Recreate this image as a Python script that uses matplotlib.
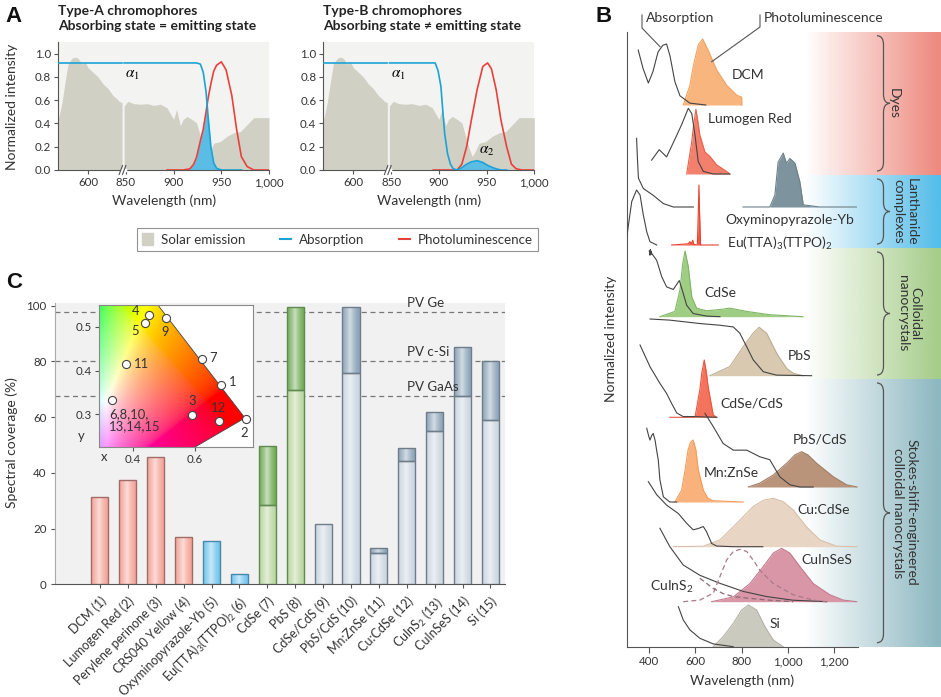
import numpy as np
import matplotlib.pyplot as plt
from matplotlib.patches import Patch, Polygon, PathPatch
from matplotlib.lines import Line2D
from matplotlib.path import Path
from matplotlib.colors import to_rgb

plt.rcParams['font.family'] = ['Lato', 'DejaVu Sans']
plt.rcParams['mathtext.fontset'] = 'custom'
plt.rcParams['mathtext.rm'] = 'Lato'
plt.rcParams['mathtext.it'] = 'Lato:italic'
plt.rcParams['font.size'] = 9

# ---------------- data: panel A ----------------
solar_left_wl = [570, 571, 574, 577, 580, 584, 587, 590, 594, 597, 600, 605, 610, 615, 620, 625, 629, 631, 634]
solar_left = [0.44, 0.46, 0.58, 0.75, 0.91, 0.96, 0.97, 0.96, 0.91, 0.93, 0.88, 0.84, 0.80, 0.74, 0.70, 0.64, 0.61, 0.59, 0.58]
solar_right_wl = [848, 852, 858, 865, 872, 879, 886, 893, 896, 900, 903, 907, 910, 914, 919, 924, 928, 931, 935, 938,
                  942, 949, 956, 963, 970, 977, 984, 991, 998, 1000]
solar_right = [0.55, 0.59, 0.57, 0.565, 0.57, 0.555, 0.565, 0.535, 0.49, 0.435, 0.52, 0.38, 0.435, 0.46, 0.435, 0.405, 0.29, 0.20, 0.115, 0.16,
               0.23, 0.245, 0.29, 0.32, 0.33, 0.39, 0.45, 0.45, 0.45, 0.45]
abs_left_wl = [570, 634]
abs_left = [0.92, 0.92]

wl_a = [848, 870, 893, 910, 917, 921, 924, 928, 931, 934, 936, 939, 942, 945, 950, 955, 961, 966, 971, 977, 984, 1000]
abs_a = [0.92, 0.92, 0.92, 0.92, 0.92, 0.92, 0.92, 0.91, 0.84, 0.67, 0.47, 0.20, 0.06, 0.015, 0, 0, 0, 0, 0,
         np.nan, np.nan, np.nan]
pl_a = [np.nan, np.nan, 0, 0, 0.01, 0.05, 0.11, 0.25, 0.35, 0.50, 0.61, 0.74, 0.85, 0.90, 0.93, 0.86, 0.64, 0.35, 0.115, 0.03, 0, 0]

wl_b = [848, 870, 894, 896, 899, 902, 904, 906, 909, 912, 915, 919, 924, 929, 934, 940, 946, 951, 955, 960, 965, 971, 976, 981, 987, 1000]
abs_b = [0.92, 0.92, 0.92, 0.92, 0.855, 0.72, 0.51, 0.31, 0.14, 0.05, 0.01, 0, 0.02, 0.05, 0.07, 0.08, 0.065, 0.04, 0.025, 0.01, 0, 0,
         np.nan, np.nan, np.nan, np.nan]
pl_b = [np.nan, np.nan, 0, 0, 0, 0, 0, 0, 0, 0, 0, 0, 0.05, 0.2, 0.43, 0.69, 0.89, 0.92, 0.87, 0.69, 0.43, 0.2, 0.05, 0.01, 0, 0]

# ---------------- data: panel C ----------------
materials = ['DCM (1)', 'Lumogen Red (2)', 'Perylene perinone (3)', 'CRS040 Yellow (4)', 'Oxyminopyrazole-Yb (5)',
             'Eu(TTA)$_3$(TTPO)$_2$ (6)', 'CdSe (7)', 'PbS (8)', 'CdSe/CdS (9)', 'PbS/CdS (10)', 'Mn:ZnSe (11)',
             'Cu:CdSe (12)', 'CuInS$_2$ (13)', 'CuInSeS (14)', 'Si (15)']
cov_low = [31.2, 37.3, 45.8, 17.1, 15.4, 3.6, 28.3, 69.6, 21.8, 75.9, 11.1, 44.4, 55.2, 67.7, 59.1]
cov_high = [31.2, 37.3, 45.8, 17.1, 15.4, 3.6, 49.6, 99.6, 21.8, 99.6, 12.9, 49.0, 61.7, 85.2, 80.3]
classes = ['dye'] * 4 + ['lan'] * 2 + ['col'] * 2 + ['sse'] * 7
pv_names = ['PV Ge', 'PV c-Si', 'PV GaAs']
pv_vals = [97.6, 80.3, 67.7]

chrom_labels = ['1', '2', '3', '4', '5', '6,8,10,\n13,14,15', '7', '9', '11', '12']
chrom_x = [0.684, 0.763, 0.591, 0.452, 0.437, 0.331, 0.624, 0.505, 0.376, 0.677]
chrom_y = [0.368, 0.289, 0.298, 0.527, 0.508, 0.334, 0.426, 0.520, 0.415, 0.286]
gamut_x = [0.29, 0.29, 0.48, 0.761, 0.60]
gamut_y = [0.226, 0.549, 0.549, 0.292, 0.226]

# ---------------- data: panel B (normalised spectra) ----------------
dcm_abs_wl = [352, 373, 396, 416, 438, 459, 475, 490, 511, 533, 576, 645]
dcm_abs = [0.90, 0.60, 0.36, 0.55, 0.87, 0.98, 1.00, 0.80, 0.38, 0.15, 0.03, 0.0]
dcm_pl_wl = [547, 576, 590, 612, 631, 655, 692, 735, 778, 800, 801]
dcm_pl = [0.0, 0.30, 0.58, 0.91, 1.00, 0.83, 0.53, 0.30, 0.15, 0.12, 0.0]

lum_abs_wl = [410, 443, 475, 519, 540, 569, 584, 598, 612, 634, 677, 749]
lum_abs = [0.21, 0.37, 0.26, 0.59, 0.75, 1.00, 0.92, 0.59, 0.19, 0.04, 0.0, 0.0]
lum_pl_wl = [562, 584, 592, 602, 611, 619, 641, 663, 692, 735, 749]
lum_pl = [0.0, 0.50, 0.76, 1.00, 0.80, 0.60, 0.34, 0.27, 0.14, 0.04, 0.0]

yb_abs_wl = [345, 349, 353, 374, 417, 461, 504, 591]
yb_abs = [1.00, 0.68, 0.42, 0.27, 0.17, 0.05, 0.0, 0.0]
yb_pl_wl = [806, 922, 944, 958, 980, 994, 1009, 1031, 1052, 1067, 1138, 1297]
yb_pl = [0.0, 0.0, 0.22, 0.83, 1.00, 0.81, 0.90, 0.81, 0.47, 0.04, 0.0, 0.0]

eu_abs_wl = [302, 324, 345, 360, 374, 389, 403, 432]
eu_abs = [0.13, 0.79, 1.00, 0.91, 0.55, 0.24, 0.06, 0.0]
eu_pl_wl = [497, 568, 576, 582, 588, 593, 608, 612, 615, 618, 622, 699]
eu_pl = [0.0, 0.02, 0.055, 0.02, 0.08, 0.01, 0.0, 0.5, 1.0, 0.5, 0.0, 0.0]

cdse_abs_wl = [400, 403, 405, 407, 409, 410, 432, 454, 475, 504, 530, 547, 562, 590, 648, 706]
cdse_abs = [1.04, 0.97, 1.06, 0.98, 1.03, 1.00, 0.89, 0.63, 0.47, 0.43, 0.57, 0.37, 0.18, 0.05, 0.01, 0.0]
cdse_pl_wl = [446, 511, 533, 545, 555, 569, 584, 605, 648, 706, 749, 822, 922, 1066]
cdse_pl = [0.0, 0.08, 0.41, 0.81, 1.00, 0.76, 0.30, 0.13, 0.09, 0.11, 0.13, 0.08, 0.03, 0.0]

pbs_abs_wl = [403, 489, 619, 706, 764, 792, 822, 850, 894, 951, 1103]
pbs_abs = [1.00, 0.98, 0.92, 0.89, 0.86, 0.75, 0.51, 0.28, 0.07, 0.01, 0.0]
pbs_pl_wl = [663, 749, 807, 850, 876, 908, 952, 995, 1023, 1067]
pbs_pl = [0.0, 0.19, 0.60, 0.88, 1.00, 0.88, 0.46, 0.15, 0.05, 0.0]

cdscds_abs_wl = [360, 403, 446, 475, 497, 519, 547, 590, 692]
cdscds_abs = [1.00, 0.70, 0.47, 0.33, 0.19, 0.06, 0.01, 0.01, 0.0]
cdscds_pl_wl = [489, 598, 619, 628, 638, 647, 655, 677, 692]
cdscds_pl = [0.0, 0.0, 0.48, 0.79, 1.00, 0.79, 0.53, 0.04, 0.0]

pbscds_abs_wl = [641, 677, 720, 764, 822, 879, 922, 965, 1009, 1052, 1110]
pbscds_abs = [1.00, 0.82, 0.59, 0.50, 0.50, 0.41, 0.37, 0.14, 0.03, 0.0, 0.0]
pbscds_pl_wl = [829, 879, 937, 995, 1031, 1060, 1087, 1125, 1197, 1255, 1300]
pbscds_pl = [0.0, 0.11, 0.34, 0.67, 0.91, 1.00, 0.91, 0.67, 0.29, 0.06, 0.0]

mn_abs_wl = [389, 397, 403, 410, 417, 425, 433, 439, 446, 461, 489, 519]
mn_abs = [1.00, 0.90, 0.84, 0.90, 0.93, 0.84, 0.68, 0.57, 0.30, 0.07, 0.0, 0.0]
mn_pl_wl = [511, 540, 555, 568, 578, 590, 602, 612, 634, 654, 677, 807]
mn_pl = [0.0, 0.19, 0.52, 0.84, 0.96, 1.00, 0.84, 0.52, 0.19, 0.06, 0.02, 0.0]

cu_abs_wl = [396, 432, 475, 526, 562, 590, 612, 634, 648, 670, 692, 764, 892]
cu_abs = [1.00, 0.80, 0.64, 0.51, 0.36, 0.26, 0.28, 0.31, 0.23, 0.05, 0.01, 0.0, 0.0]
cu_pl_wl = [504, 634, 706, 778, 850, 894, 937, 980, 1023, 1081, 1139, 1211, 1300]
cu_pl = [0.0, 0.01, 0.14, 0.48, 0.83, 0.96, 1.00, 0.93, 0.76, 0.41, 0.14, 0.01, 0.0]

cis_abs_wl = [446, 489, 547, 619, 706, 807, 908, 1023, 1168]
cis_abs = [1.00, 0.75, 0.50, 0.36, 0.25, 0.14, 0.07, 0.02, 0.0]
cis_pl_wl = [670, 764, 836, 894, 937, 973, 1009, 1052, 1110, 1182, 1240, 1298]
cis_pl = [0.0, 0.09, 0.34, 0.66, 0.91, 1.00, 0.91, 0.66, 0.34, 0.13, 0.03, 0.0]
cins2_abs_wl = [619, 648, 677, 720, 764, 822, 922, 1023]
cins2_abs = [0.32, 0.25, 0.18, 0.11, 0.07, 0.05, 0.02, 0.0]
cins2_pl_wl = [547, 619, 677, 706, 735, 764, 792, 822, 850, 879, 937, 1023, 1110, 1168]
cins2_pl = [0.0, 0.03, 0.16, 0.47, 0.78, 0.94, 0.98, 0.94, 0.78, 0.59, 0.34, 0.13, 0.03, 0.0]

si_abs_wl = [526, 547, 576, 619, 677, 764]
si_abs = [1.00, 0.67, 0.42, 0.21, 0.07, 0.0]
si_pl_wl = [677, 720, 764, 800, 829, 865, 901, 937, 980]
si_pl = [0.0, 0.24, 0.56, 0.88, 1.00, 0.88, 0.48, 0.16, 0.0]

# ---------------- figure helpers ----------------
W, H = 941, 697
fig = plt.figure(figsize=(W / 100, H / 100), dpi=100)


def box(x0, y0, x1, y1):
    return [x0 / W, 1 - y1 / H, (x1 - x0) / W, (y1 - y0) / H]


def fp(x, y):
    return (x / W, 1 - y / H)


c_solar = '#d0d0c5'
c_abs = '#1ba3d6'
c_pl = '#e8413c'
grey = '#555555'
txt = '#333333'
fs_tick = 8.3
fs_lab = 10

# broken wavelength axis of panel A
def fwd(w):
    w = np.asarray(w, float)
    return np.where(w <= 636, w - 570, np.where(w >= 848, 68 + (w - 850) * 0.953, 66 + (w - 636) * 0.094 / 212))


def inv(u):
    u = np.asarray(u, float)
    return np.where(u <= 66, u + 570, np.where(u >= 66.094, 850 + (u - 68) / 0.953, 636 + (u - 66) * 212 / 0.094))


# ---------------- panel A ----------------
for x0, wl, ab, pl, kind, t1, t2 in [
        (58, wl_a, abs_a, pl_a, 'A', 'Type-A chromophores', 'Absorbing state = emitting state'),
        (323.3, wl_b, abs_b, pl_b, 'B', 'Type-B chromophores', 'Absorbing state \u2260 emitting state')]:
    ax = fig.add_axes(box(x0, 42, x0 + 211, 170))
    ax.set_xscale('function', functions=(fwd, inv))
    ax.set_facecolor('#f3f3f1')
    wl = np.array(wl)
    ab = np.array(ab)
    pl = np.array(pl)
    ax.fill_between(solar_left_wl, solar_left, color=c_solar, lw=0, zorder=1)
    ax.fill_between(solar_right_wl, solar_right, color=c_solar, lw=0, zorder=1)
    if kind == 'A':
        ovl = np.minimum(ab, pl)
    else:
        ovl = np.where(wl >= 919, ab, np.nan)
    ax.fill_between(wl, ovl, color='#5bbde6', lw=0, zorder=2)
    ax.plot(wl, pl, color=c_pl, lw=1.2, zorder=3)
    ax.plot(abs_left_wl, abs_left, color=c_abs, lw=1.2, zorder=4)
    ax.plot(wl, ab, color=c_abs, lw=1.2, zorder=4)
    ax.set_xlim(570, 1000)
    ax.set_ylim(0, 1.1)
    ax.set_xticks([600, 850, 900, 950, 1000])
    ax.set_xticklabels(['600', '850', '900', '950', '1,000'])
    ax.set_yticks([0, 0.2, 0.4, 0.6, 0.8, 1.0])
    ax.set_yticklabels(['0.0', '0.2', '0.4', '0.6', '0.8', '1.0'])
    ax.tick_params(labelsize=fs_tick, length=3, width=0.8, color=grey, pad=2, labelcolor=txt)
    for s in ['top', 'right']:
        ax.spines[s].set_visible(False)
    for s in ['left', 'bottom']:
        ax.spines[s].set_color(grey)
        ax.spines[s].set_linewidth(0.8)
    # break marks
    bx = 64.5 / 211
    ax.add_line(Line2D([bx - 0.004, bx + 0.012], [0, 0], transform=ax.transAxes, color='white', lw=2.5, clip_on=False, zorder=5))
    for dx in (-0.008, 0.008):
        ax.add_line(Line2D([bx + dx - 0.008, bx + dx + 0.008], [-0.035, 0.035], transform=ax.transAxes,
                           color=grey, lw=0.8, clip_on=False, zorder=6))
    ax.text(857, 0.82, r'$\alpha_1$', math_fontfamily='stix', fontsize=11, ha='center', va='center', zorder=6)
    if kind == 'B':
        ax.text(950, 0.16, r'$\alpha_2$', math_fontfamily='stix', fontsize=11, ha='center', va='center', zorder=6)
    fig.text(*fp(x0, 11), t1, fontsize=10, fontweight='bold', ha='left', va='center', color='#222')
    fig.text(*fp(x0, 26), t2, fontsize=10, fontweight='bold', ha='left', va='center', color='#222')
    fig.text(*fp(x0 + 106, 201), 'Wavelength (nm)', fontsize=fs_lab, ha='center', va='center', color=txt)

fig.text(*fp(12, 107), 'Normalized intensity', fontsize=fs_lab, rotation=90, ha='center', va='center', color=txt)

handles = [Patch(color=c_solar, label='Solar emission'),
           Line2D([], [], color=c_abs, lw=1.5, label='Absorption'),
           Line2D([], [], color=c_pl, lw=1.5, label='Photoluminescence')]
leg = fig.legend(handles=handles, loc='center', bbox_to_anchor=fp(337.5, 239.5), ncol=3, frameon=True,
                 fancybox=False, edgecolor='#777777', fontsize=9.6, handlelength=0.8, handleheight=0.9,
                 columnspacing=2.6, handletextpad=0.6, borderpad=0.4, labelcolor=txt)
leg.get_frame().set_linewidth(0.8)

# ---------------- panel C ----------------
cax = fig.add_axes(box(55, 303, 505, 584.3))
cax.set_facecolor('#f1f1f1')
pos = np.arange(1, 16)
fills = {'dye': ('#f4a498', '#f4a498', '#a06c66'), 'lan': ('#72c5ee', '#72c5ee', '#4a88a8'),
         'col': ('#b9d69f', '#72ac58', '#5f8a50'), 'sse': ('#cbd6e0', '#8da5b9', '#6f7d8a')}


def shaded_bar(p, height, bottom, color, ec):
    rect = cax.bar(p, height, bottom=bottom, width=0.61, color=color, linewidth=0, zorder=3)[0]
    s = np.linspace(0, 1, 60)
    t = np.clip(1 - np.abs(s - 0.45) / 0.5, 0, 1) ** 1.4 * 0.62
    grad = np.array(to_rgb(color))[None, :] * (1 - t[:, None]) + t[:, None]
    im = cax.imshow(grad[None, :, :], extent=(rect.get_x(), rect.get_x() + rect.get_width(), bottom, bottom + height),
                    aspect='auto', interpolation='bilinear', zorder=3.2)
    im.set_clip_path(rect)
    cax.bar(p, height, bottom=bottom, width=0.61, fill=False, edgecolor=ec, linewidth=1, zorder=3.5)


for p, lo, hi, cl in zip(pos, cov_low, cov_high, classes):
    f_lo, f_hi, ec = fills[cl]
    shaded_bar(p, lo, 0, f_lo, ec)
    if hi > lo:
        shaded_bar(p, hi - lo, lo, f_hi, ec)
for name, v in zip(pv_names, pv_vals):
    cax.axhline(v, color='#777777', lw=0.9, ls=(0, (4, 3)), zorder=1)
    cax.text(11.99, v + 1.1, name, fontsize=9.6, ha='left', va='bottom', color=txt, zorder=4)
cax.set_xlim(-0.61, 15.52)
cax.set_ylim(0, 101)
cax.set_yticks([0, 20, 40, 60, 80, 100])
cax.set_xticks(pos)
cax.set_xticklabels(materials, rotation=45, ha='right', va='top', rotation_mode='anchor')
cax.tick_params(labelsize=fs_tick, length=3, width=0.8, color=grey, pad=3, labelcolor=txt)
cax.tick_params(axis='x', labelsize=9, pad=4.5)
for s in ['top', 'right']:
    cax.spines[s].set_visible(False)
cax.spines['left'].set_color('#aaaaaa')
cax.spines['bottom'].set_color(grey)
fig.text(*fp(12, 443), 'Spectral coverage (%)', fontsize=fs_lab, rotation=90, ha='center', va='center', color=txt)

# chromaticity inset
iax = fig.add_axes(box(99, 305, 253, 447))
iax.set_facecolor('white')
gx, gy = np.meshgrid(np.linspace(0.29, 0.787, 220), np.linspace(0.226, 0.549, 160))
X = gx / gy
Z = (1 - gx - gy) / gy
R = 3.2406 * X - 1.5372 - 0.4986 * Z
G = -0.9689 * X + 1.8758 + 0.0415 * Z
B = 0.0557 * X - 0.2040 + 1.0570 * Z
rgb = np.clip(np.dstack([R, G, B]), 0, None)
rgb = rgb / rgb.max(axis=2, keepdims=True)
rgb = rgb ** (1 / 2.2)
img = iax.imshow(rgb, extent=(0.29, 0.787, 0.226, 0.549), origin='lower', aspect='auto', interpolation='bilinear')
gpoly = Polygon(np.column_stack([gamut_x, gamut_y]), closed=True, transform=iax.transData)
img.set_clip_path(gpoly)
iax.plot(gamut_x[2:], gamut_y[2:], color='#444', lw=0.6)
iax.scatter(chrom_x, chrom_y, s=34, facecolor='white', edgecolor='#444', linewidth=0.8, zorder=5)
offs = {'1': (6, 2, 'left', 'center'), '2': (-1, -10, 'center', 'center'), '3': (0, 10, 'center', 'center'),
        '4': (-10, 3, 'center', 'center'), '5': (-7, -6, 'center', 'center'), '6,8,10,\n13,14,15': (-2, -6, 'left', 'top'),
        '7': (5, 1, 'left', 'center'), '9': (0, -10, 'center', 'center'), '11': (6, 0, 'left', 'center'),
        '12': (0, 9, 'center', 'center')}
for lab, x, y in zip(chrom_labels, chrom_x, chrom_y):
    dx, dy, ha, va = offs[lab]
    iax.annotate(lab, (x, y), xytext=(dx, dy), textcoords='offset points', ha=ha, va=va, fontsize=9.4,
                 color=txt, linespacing=1.0, zorder=6)
iax.set_xlim(0.29, 0.787)
iax.set_ylim(0.226, 0.549)
iax.set_xticks([0.4, 0.6])
iax.set_xticklabels(['0.4', '0.6'])
iax.set_yticks([0.3, 0.4, 0.5])
iax.set_yticklabels(['0.3', '0.4', '0.5'])
iax.tick_params(labelsize=fs_tick, length=3, width=0.8, color=grey, pad=2, labelcolor=txt)
for s in iax.spines.values():
    s.set_color('#888888')
    s.set_linewidth(0.8)
fig.text(*fp(104, 457), 'x', fontsize=9.4, ha='center', va='center', color=txt)
fig.text(*fp(81, 436), 'y', fontsize=9.4, ha='center', va='center', color=txt)

# ---------------- panel B ----------------
band_ax = fig.add_axes(box(795, 31.7, 941, 646.7))
band_ax.axis('off')
bands = [('Dyes', 31.7, 175, '#ee8a7f', 894), ('Lanthanide\ncomplexes', 175, 248, '#55bde9', 905),
         ('Colloidal\nnanocrystals', 248, 379, '#a6cd8a', 909),
         ('Stokes-shift-engineered\ncolloidal nanocrystals', 379, 646.7, '#8db8c1', 905)]
xs = np.linspace(795, 941, 200)
alpha = np.clip((xs - 805) / (938 - 805), 0, 1)
for name, y0, y1, col, tx in bands:
    c = np.array(to_rgb(col))
    grad = np.ones((2, xs.size, 4))
    grad[..., :3] = c
    grad[..., 3] = alpha
    band_ax.imshow(grad, extent=(795, 941, y1, y0), aspect='auto', interpolation='bilinear', zorder=1)
    # curly brace
    x, w = 877, 13
    xm, ym = x + w / 2, (y0 + y1) / 2
    yy0, yy1 = y0 + 4, y1 - 4
    r = min(9, (yy1 - yy0) / 6)
    verts = [(x, yy0), (xm, yy0), (xm, yy0 + r), (xm, ym - r), (xm, ym), (x + w, ym), (xm, ym), (xm, ym + r),
             (xm, yy1 - r), (xm, yy1), (x, yy1)]
    codes = [Path.MOVETO, Path.CURVE3, Path.CURVE3, Path.LINETO, Path.CURVE3, Path.CURVE3, Path.CURVE3, Path.CURVE3,
             Path.LINETO, Path.CURVE3, Path.CURVE3]
    band_ax.add_patch(PathPatch(Path(verts, codes), fill=False, edgecolor='#555', lw=0.9, zorder=3))
    band_ax.text(tx, ym, name, rotation=270, ha='center', va='center', fontsize=fs_lab, color=txt,
                 linespacing=1.1, zorder=4)
band_ax.set_xlim(795, 941)
band_ax.set_ylim(646.7, 31.7)

bax = fig.add_axes(box(627, 31.7, 858, 646.7))
bax.set_facecolor('none')
bax.set_xlim(303.5, 1304)
bax.set_ylim(0, 615)

b_layout = [
    (dcm_abs_wl, dcm_abs, dcm_pl_wl, dcm_pl, 541.7, 61, 66, '#f8b57e', '#f0a262'),
    (lum_abs_wl, lum_abs, lum_pl_wl, lum_pl, 472.7, 65.7, 64.7, '#f3806c', '#e9614d'),
    (yb_abs_wl, yb_abs, yb_pl_wl, yb_pl, 439.7, 68.7, 54, '#7d939d', '#6d8089'),
    (eu_abs_wl, eu_abs, eu_pl_wl, eu_pl, 401.7, 55, 60, '#ef5a45', '#e8432f'),
    (cdse_abs_wl, cdse_abs, cdse_pl_wl, cdse_pl, 330, 63.4, 65.7, '#a0cd84', '#7fb766'),
    (pbs_abs_wl, pbs_abs, pbs_pl_wl, pbs_pl, 271, 56.7, 48.4, '#d8c9b0', '#c0ad90'),
    (cdscds_abs_wl, cdscds_abs, cdscds_pl_wl, cdscds_pl, 229.4, 72.3, 57.3, '#f3735c', '#eb553d'),
    (pbscds_abs_wl, pbscds_abs, pbscds_pl_wl, pbscds_pl, 159.7, 73.7, 35.3, '#b9947b', '#a07c62'),
    (mn_abs_wl, mn_abs, mn_pl_wl, mn_pl, 144.7, 73.7, 62, '#f9b27c', '#f29c5c'),
    (cu_abs_wl, cu_abs, cu_pl_wl, cu_pl, 100, 65, 48.4, '#e9d5c4', '#d9bfaa'),
    (cis_abs_wl, cis_abs, cis_pl_wl, cis_pl, 45, 73.4, 53.4, '#d996a7', '#c37a8d'),
    (si_abs_wl, si_abs, si_pl_wl, si_pl, 0, 40, 41.7, '#cacabf', '#b3b3a6'),
]
for aw, ai, pw, pi, base, ah, ph, fc, ec in b_layout:
    pv = base + ph * np.array(pi)
    bax.fill_between(pw, base, pv, color=fc, lw=0, zorder=2)
    bax.plot(pw, pv, color=ec, lw=0.8, zorder=2.5)
    bax.plot(aw, base + ah * np.array(ai), color='#444', lw=0.8, zorder=3)
bax.plot(cins2_pl_wl, 45 + 53.4 * np.array(cins2_pl), color='#a87a8a', lw=0.9, ls=(0, (4, 2.5)), zorder=3)
bax.plot(cins2_abs_wl, 45 + 73.4 * np.array(cins2_abs), color='#8a6a78', lw=0.9, ls=(0, (4, 2.5)), zorder=3)


def bpos(px, py):
    return 303.5 + (px - 627) / 231 * 1000.5, 646.7 - py


for name, px, py in [('DCM', 732, 75), ('Lumogen Red', 708.3, 119.3), ('Oxyminopyrazole-Yb', 725.7, 220),
                     ('Eu(TTA)$_3$(TTPO)$_2$', 726.7, 243), ('CdSe', 704, 292.7), ('PbS', 787.7, 355.7),
                     ('CdSe/CdS', 720.7, 403.3), ('PbS/CdS', 792.3, 439.3), ('Mn:ZnSe', 703.3, 473.3),
                     ('Cu:CdSe', 797.3, 510), ('CuInSeS', 801.7, 560), ('CuInS$_2$', 650, 586.7), ('Si', 769.3, 624)]:
    bax.text(*bpos(px, py), name, fontsize=fs_lab, ha='left', va='center', color=txt, zorder=5)

bax.set_xticks([400, 600, 800, 1000, 1200])
bax.set_xticklabels(['400', '600', '800', '1,000', '1,200'])
bax.set_yticks([])
bax.tick_params(labelsize=fs_tick, length=4, width=0.8, color=grey, pad=3, labelcolor=txt)
for s in ['top', 'right']:
    bax.spines[s].set_visible(False)
for s in ['left', 'bottom']:
    bax.spines[s].set_color(grey)
    bax.spines[s].set_linewidth(0.8)
bax.set_xlabel('Wavelength (nm)', fontsize=fs_lab, color=txt, labelpad=5)
bax.set_ylabel('Normalized intensity', fontsize=fs_lab, color=txt, labelpad=7)

# leader lines for "Absorption" / "Photoluminescence"
for xy in [[(642, 15), (642, 28), (660, 46.7)], [(760, 15), (760, 27), (711.7, 61.7)]]:
    fig.add_artist(Line2D([fp(*p)[0] for p in xy], [fp(*p)[1] for p in xy], color='#555', lw=0.8))
fig.text(*fp(646, 18), 'Absorption', fontsize=fs_lab, ha='left', va='center', color=txt)
fig.text(*fp(764, 18), 'Photoluminescence', fontsize=fs_lab, ha='left', va='center', color=txt)

# panel letters
for lab, x, y in [('A', 14, 16), ('B', 604, 16), ('C', 14, 283)]:
    fig.text(*fp(x, y), lab, fontsize=16, fontweight='bold', ha='center', va='center',
             family=['Liberation Sans', 'DejaVu Sans'], color='#111')

fig.savefig('out.png', dpi=100)
